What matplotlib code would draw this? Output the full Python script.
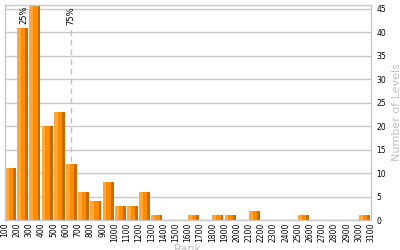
import numpy as np
import matplotlib.pyplot as plt

# rank bins (left edges) and counts
bin_left = np.arange(100, 3100, 100)
counts = [11, 41, 46, 20, 23, 12, 6, 4, 8, 3, 3, 6, 1, 0, 0, 1, 0, 1, 1, 0,
          2, 0, 0, 0, 1, 0, 0, 0, 0, 1]
tick_vals = np.arange(100, 3200, 100)
p25 = 256
p75 = 641

fig = plt.figure(figsize=(4, 2.5), dpi=100)
ax = fig.add_axes([0.0125, 0.12, 0.915, 0.86])

grid_c = '#c8c8c8'
ax.set_axisbelow(True)
ax.yaxis.grid(True, color=grid_c, linewidth=1)

# 75% dashed marker behind the bars
ax.vlines(p75, 0, 41, colors='#c0c0c0', linestyles=(0, (4, 3)), linewidth=1, zorder=1)

# bars with a fake 3d look: light strip, main, dark side
w = 90
ax.bar(bin_left, counts, width=w * 0.35, align='edge', color='#ffa838', linewidth=0, zorder=2)
ax.bar(bin_left + w * 0.35, counts, width=w * 0.4, align='edge', color='#ff8c00', linewidth=0, zorder=2)
ax.bar(bin_left + w * 0.75, counts, width=w * 0.25, align='edge', color='#c86a00', linewidth=0, zorder=2)

ax.text(p25, 45.6, '25%', rotation=90, ha='center', va='top', fontsize=6, zorder=3)
ax.text(p75, 45.6, '75%', rotation=90, ha='center', va='top', fontsize=6, zorder=3)

ax.set_xlim(100, 3100)
ax.set_ylim(0, 45.8)
ax.set_xticks(tick_vals)
ax.set_xticklabels([str(t) for t in tick_vals], rotation=90, fontsize=5.5)
ax.set_yticks(np.arange(0, 50, 5))
ax.yaxis.tick_right()
ax.tick_params(axis='y', labelsize=5.5, length=0, pad=4)
ax.tick_params(axis='x', length=0, pad=2)

ax.set_ylabel('Number of Levels', fontsize=8, color='#c0c0c0')
ax.yaxis.set_label_position('right')
ax.set_xlabel('Rank', fontsize=8, color='#c0c0c0', labelpad=1)

for s in ax.spines.values():
    s.set_color(grid_c)
    s.set_linewidth(1)

fig.savefig('out.png', dpi=100)
